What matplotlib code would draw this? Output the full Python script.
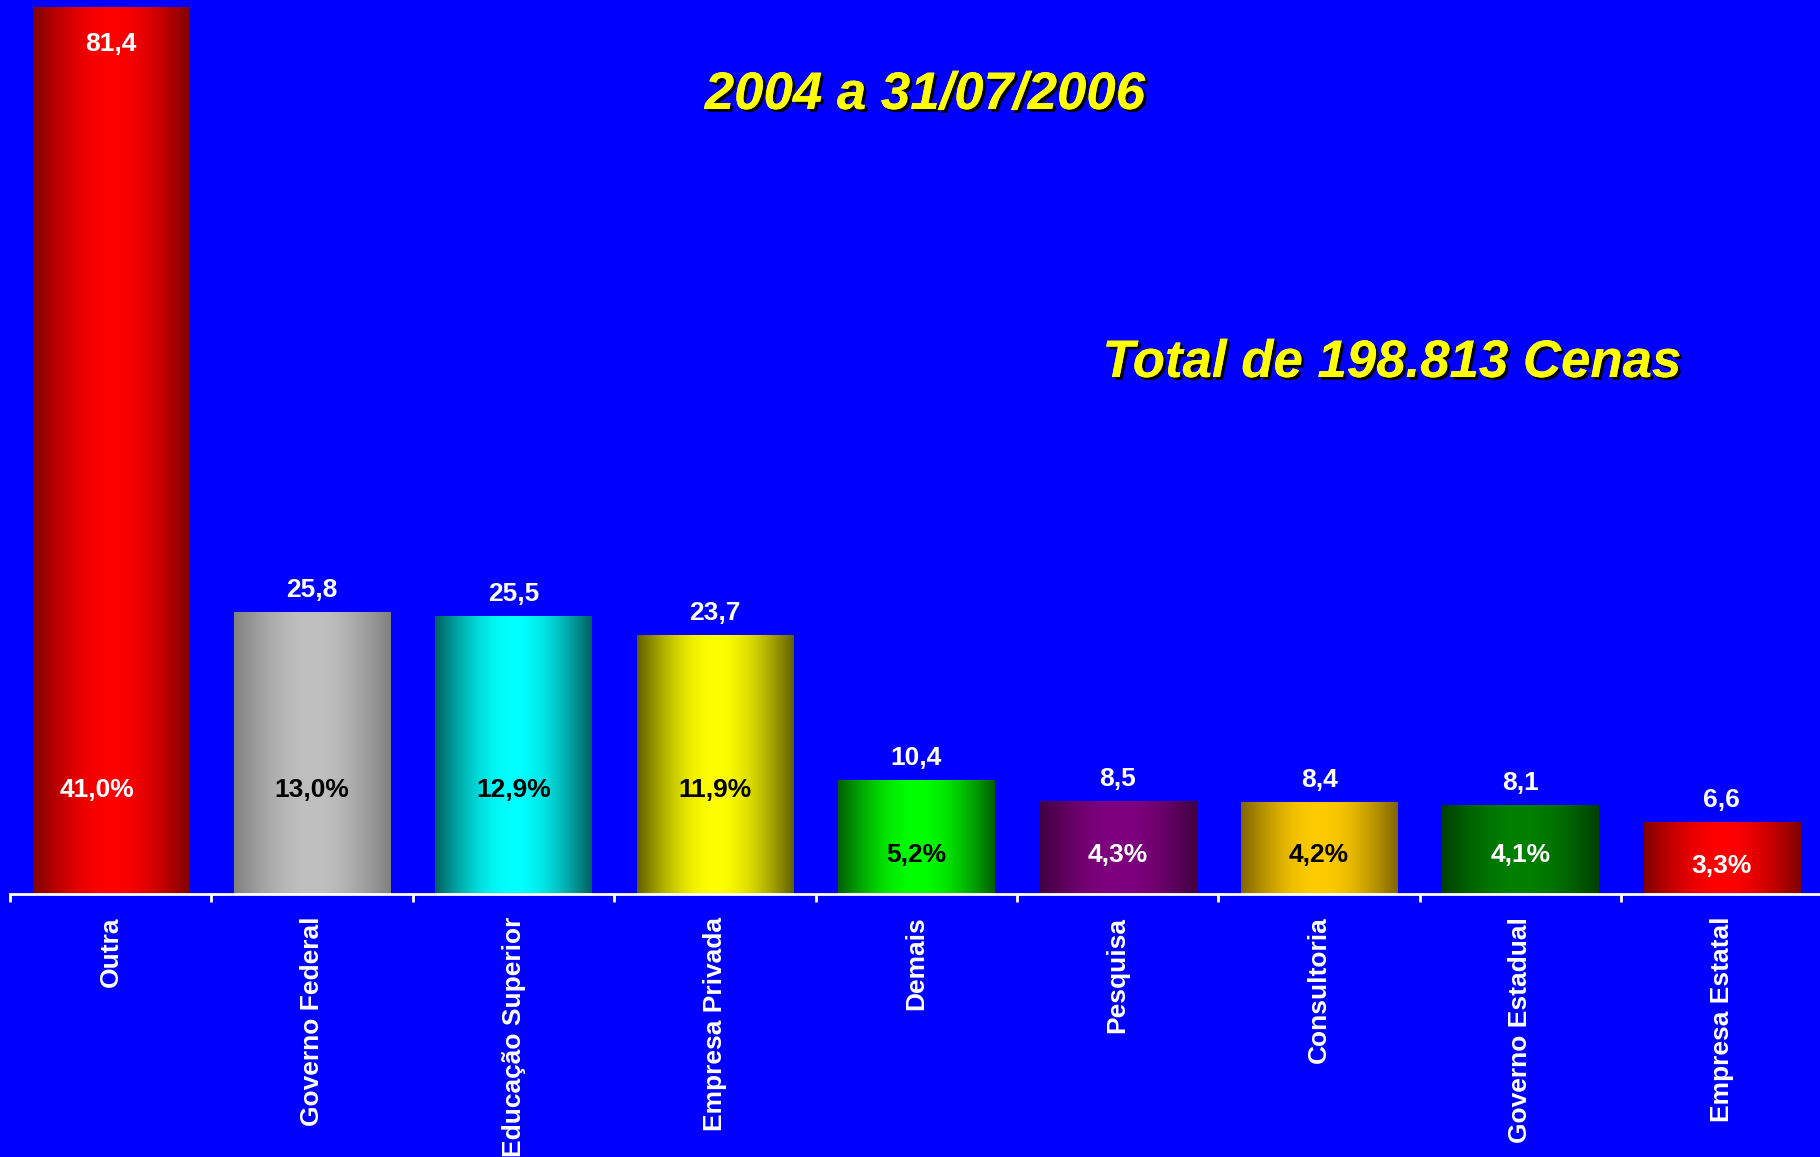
# Bar chart of scenes by institution type, 2004 to 31/07/2006
# gradient-filled bars on a blue background, values and shares as labels

# IMPORTS --------------------------------------------------------------------------------------------------------------
import numpy as np
import matplotlib as mpl
import matplotlib.pyplot as plt
import matplotlib.patheffects as pe
from matplotlib.colors import to_rgb

mpl.use('Agg')

# DATA -----------------------------------------------------------------------------------------------------------------
categories = ['Outra', 'Governo Federal', 'Educação Superior', 'Empresa Privada', 'Demais',
              'Pesquisa', 'Consultoria', 'Governo Estadual', 'Empresa Estatal']
values = [81.4, 25.8, 25.5, 23.7, 10.4, 8.5, 8.4, 8.1, 6.6]
percents = [41.0, 13.0, 12.9, 11.9, 5.2, 4.3, 4.2, 4.1, 3.3]

title_text = '2004 a 31/07/2006'
total_text = 'Total de 198.813 Cenas'

# bar colours: bright centre / dark edge
bright_colors = ['#ff0000', '#c0c0c0', '#00ffff', '#ffff00', '#00ff00', '#800080', '#ffcc00', '#008000', '#ff0000']
dark_colors = ['#800000', '#808080', '#006060', '#606000', '#006000', '#400040', '#806600', '#004000', '#800000']
pct_colors = ['white', 'black', 'black', 'black', 'black', 'white', 'black', 'white', 'white']

BG = '#0000ff'
FONT = 'Liberation Sans'


def br(v):
    # decimal comma, portuguese style
    return f'{v:.1f}'.replace('.', ',')


def gradient_image(c_bright, c_dark, n=256):
    u = np.linspace(0, 1, n)
    t = np.sin(np.pi * u)[:, None]
    b = np.array(to_rgb(c_bright))
    d = np.array(to_rgb(c_dark))
    img = d + (b - d) * t
    return img[None, :, :]


# FIGURE ---------------------------------------------------------------------------------------------------------------
def scenes_barplot():
    fig = plt.figure(figsize=(18.2, 11.57), dpi=100, facecolor=BG)
    ax = fig.add_axes([10 / 1820, 0.2269, 1812.6 / 1820, 0.7731])
    ax.set_facecolor(BG)

    x = np.arange(len(categories))
    bars = ax.bar(x, values, width=0.775, color='none', edgecolor='none', zorder=2)

    # paint each bar with a horizontal gradient
    for rect, cb, cd in zip(bars, bright_colors, dark_colors):
        x0, w, h = rect.get_x(), rect.get_width(), rect.get_height()
        ax.imshow(gradient_image(cb, cd), extent=[x0, x0 + w, 0, h], aspect='auto',
                  interpolation='bilinear', zorder=2)

    # value labels (the tall one sits inside its bar)
    for xi, v in zip(x, values):
        dy = -31 if v > 60 else 11.5
        ax.annotate(br(v), (xi, v), xytext=(0, dy), textcoords='offset points', ha='center',
                    va='baseline', color='white', fontsize=19, fontweight='bold', family=FONT, zorder=4)

    # percentage labels inside the bars
    for xi, v, p, c in zip(x, values, percents, pct_colors):
        if v > 20:
            y = 8.95
        elif v > 7:
            y = 2.98
        else:
            y = 1.97
        dx = -10 if v > 60 else 0
        ax.annotate(br(p) + '%', (xi, y), xytext=(dx, 0), textcoords='offset points', ha='center',
                    va='baseline', color=c, fontsize=19, fontweight='bold', family=FONT, zorder=4)

    ax.set_xlim(-0.5, len(categories) - 0.5)
    ax.set_ylim(0, 82.11)

    # axis styling
    for s in ['top', 'right', 'left']:
        ax.spines[s].set_visible(False)
    ax.spines['bottom'].set_color('white')
    ax.spines['bottom'].set_linewidth(2)
    ax.spines['bottom'].set_zorder(5)
    ax.set_yticks([])

    ax.set_xticks(x)
    ax.set_xticklabels(categories, rotation=90, fontsize=19, fontweight='bold', color='white', family=FONT)
    ax.tick_params(axis='x', which='major', length=0, pad=16)
    ax.set_xticks(np.arange(-0.5, len(categories), 1), minor=True)
    ax.tick_params(axis='x', which='minor', length=6, width=2, color='white', direction='out')

    # headings
    shadow = [pe.withSimplePatchShadow(offset=(2, -2), shadow_rgbFace='black', alpha=1.0), pe.Normal()]
    fig.text(925 / 1820, 1 - 95 / 1157, title_text, ha='center', va='center', color='yellow', fontsize=38,
             fontweight='bold', fontstyle='italic', family=FONT, path_effects=shadow)
    fig.text(1392 / 1820, 1 - 363 / 1157, total_text, ha='center', va='center', color='yellow', fontsize=38,
             fontweight='bold', fontstyle='italic', family=FONT, path_effects=shadow)

    fig.savefig('out.png', dpi=100, facecolor=BG)


# EXECUTION ------------------------------------------------------------------------------------------------------------
if __name__ == "__main__":
    scenes_barplot()
